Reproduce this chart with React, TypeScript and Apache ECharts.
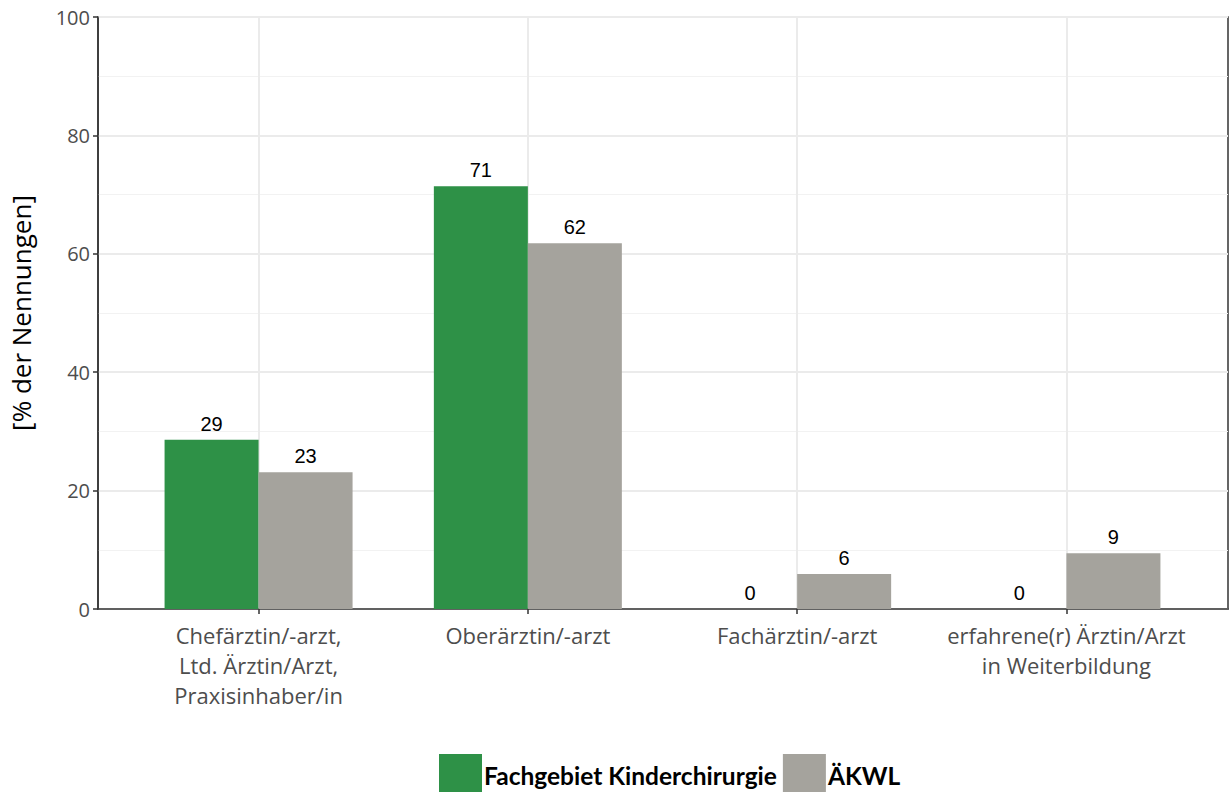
import React, { useEffect, useRef } from "react";
import * as echarts from "echarts";

const categories = [
  "Chefärztin/-arzt,\nLtd. Ärztin/Arzt,\nPraxisinhaber/in",
  "Oberärztin/-arzt",
  "Fachärztin/-arzt",
  "erfahrene(r) Ärztin/Arzt\nin Weiterbildung",
];
const seriesNames = ["Fachgebiet Kinderchirurgie", "ÄKWL"];
const kinderchirurgie = [28.6, 71.4, 0, 0];
const aekwl = [23.1, 61.8, 5.9, 9.4];
const yTicks = [0, 20, 40, 60, 80, 100];

export default function App() {
  const ref = useRef<HTMLDivElement>(null);
  useEffect(() => {
    const chart = echarts.init(ref.current!, null, { renderer: "svg" });
    const label = {
      show: true,
      position: "top",
      distance: 6,
      color: "#000",
      fontFamily: "Liberation Sans",
      fontSize: 20,
      formatter: (p: any) => String(Math.round(p.value)),
    };
    // outer plot box: left 97, right edge 1228; inner category range expanded by 0.6 units like ggplot
    const outerLeft = 97;
    const outerRight = 1;
    const plotW = 1229 - outerLeft - outerRight;
    const pad = (plotW / 4.2) * 0.1;
    chart.setOption({
      animation: false,
      backgroundColor: "#fff",
      grid: [
        {
          left: outerLeft,
          right: outerRight,
          top: 17,
          bottom: 183,
          show: true,
          borderColor: "#333",
          borderWidth: 1.5,
          backgroundColor: "transparent",
        },
        {
          left: outerLeft + pad,
          right: outerRight + pad,
          top: 17,
          bottom: 183,
        },
      ],
      legend: {
        left: 434,
        top: 749,
        itemWidth: 43,
        itemHeight: 43,
        itemGap: 6,
        icon: "rect",
        textStyle: {
          color: "#000",
          fontWeight: "bold",
          fontFamily: "Lato",
          fontSize: 24.5,
          padding: [0, 0, 0, -3],
        },
        data: seriesNames,
      },
      xAxis: [
        {
          gridIndex: 0,
          type: "value",
          min: 0,
          max: 1,
          show: true,
          axisLine: { show: true, onZero: false, lineStyle: { color: "#333", width: 1.5 } },
          axisTick: { show: false },
          axisLabel: { show: false },
          splitLine: { show: false },
        },
        {
          gridIndex: 1,
          type: "category",
          data: categories,
          axisLine: { show: false },
          axisTick: { show: true, alignWithLabel: true, length: 5, lineStyle: { color: "#333", width: 1.5 } },
          axisLabel: {
            color: "#4d4d4d",
            fontFamily: "Open Sans",
            fontSize: 22,
            lineHeight: 30,
            margin: 11,
            interval: 0,
          },
          splitLine: { show: true, alignWithLabel: true, lineStyle: { color: "#ebebeb", width: 2 } },
        },
      ],
      yAxis: [
        {
          gridIndex: 0,
          type: "value",
          min: 0,
          max: 100,
          interval: 20,
          name: "[% der Nennungen]",
          nameLocation: "middle",
          nameGap: 64,
          nameTextStyle: { color: "#000", fontFamily: "Open Sans", fontSize: 26 },
          axisLine: { show: true, lineStyle: { color: "#333", width: 1.5 } },
          axisTick: { show: true, length: 5, lineStyle: { color: "#333", width: 1.5 } },
          axisLabel: {
            color: "#4d4d4d",
            fontFamily: "Open Sans",
            fontSize: 20,
            margin: 8,
            formatter: (v: number) => (yTicks.includes(v) ? String(v) : ""),
          },
          splitLine: { show: true, lineStyle: { color: "#ebebeb", width: 2 } },
          minorTick: { show: false, splitNumber: 2 },
          minorSplitLine: { show: true, lineStyle: { color: "#f2f2f2", width: 1 } },
        },
        {
          gridIndex: 1,
          type: "value",
          min: 0,
          max: 100,
          show: false,
          splitLine: { show: false },
        },
      ],
      series: [
        {
          name: seriesNames[0],
          type: "bar",
          xAxisIndex: 1,
          yAxisIndex: 1,
          data: kinderchirurgie,
          barWidth: 94,
          barGap: "0%",
          itemStyle: { color: "#2e9147" },
          label,
        },
        {
          name: seriesNames[1],
          type: "bar",
          xAxisIndex: 1,
          yAxisIndex: 1,
          data: aekwl,
          barWidth: 94,
          barGap: "0%",
          itemStyle: { color: "#a5a39d" },
          label,
        },
      ],
    });
    return () => chart.dispose();
  }, []);
  return <div ref={ref} style={{ width: 1229, height: 792, position: "absolute", left: 0, top: 0 }} />;
}
